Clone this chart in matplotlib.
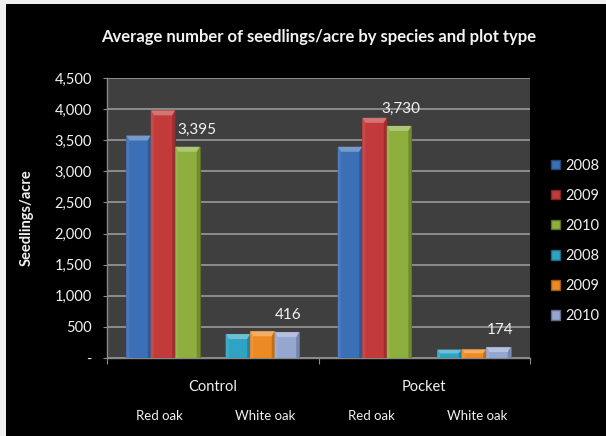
import matplotlib
matplotlib.use("Agg")
import matplotlib.pyplot as plt
from matplotlib.patches import Polygon, Rectangle, Patch
from matplotlib.ticker import FuncFormatter, MultipleLocator
import matplotlib.colors as mcolors
import numpy as np

# ---- data ----
plot_types = ["Control", "Pocket"]
species = ["Red oak", "White oak"]
years = ["2008", "2009", "2010"]
red_oak_control = [3575, 3980, 3395]
white_oak_control = [385, 430, 416]
red_oak_pocket = [3395, 3860, 3730]
white_oak_pocket = [135, 138, 174]
labelled = {("Control", "Red oak"): 3395, ("Control", "White oak"): 416,
            ("Pocket", "Red oak"): 3730, ("Pocket", "White oak"): 174}

red_oak_colors = ["#3b6fb6", "#c23a3a", "#8eae3d"]
white_oak_colors = ["#2fa3c4", "#ee8a24", "#95a7d0"]

FG = "#f2f2f2"
PANEL = "#3f3f3f"
GRID = "#8c8c8c"

W, H, DPI = 606, 436, 100
fig = plt.figure(figsize=(W / DPI, H / DPI), dpi=DPI, facecolor="black")
plt.rcParams["font.family"] = ["Lato", "DejaVu Sans"]

# light frame strips along the top and left edges
fig.patches.append(Rectangle((0, 1 - 4 / H), 1, 4 / H, transform=fig.transFigure,
                             facecolor="#f0f0f0", edgecolor="none", zorder=0))
fig.patches.append(Rectangle((0, 0), 6 / W, 1, transform=fig.transFigure,
                             facecolor="#f0f0f0", edgecolor="none", zorder=0))

ax_l, ax_r, ax_t, ax_b = 107, 530, 78, 358
ax = fig.add_axes([ax_l / W, 1 - ax_b / H, (ax_r - ax_l) / W, (ax_b - ax_t) / H])
ax.set_facecolor(PANEL)
ymax = 4500
ax.set_xlim(0, 4)
ax.set_ylim(0, ymax)

px_x = 4 / (ax_r - ax_l)
px_y = ymax / (ax_b - ax_t)

bar_w = 0.232
groups = [
    ("Control", "Red oak", red_oak_control, red_oak_colors),
    ("Control", "White oak", white_oak_control, white_oak_colors),
    ("Pocket", "Red oak", red_oak_pocket, red_oak_colors),
    ("Pocket", "White oak", white_oak_pocket, white_oak_colors),
]


def mix(c, other, f):
    a = np.array(mcolors.to_rgb(c))
    b = np.array(mcolors.to_rgb(other))
    return tuple(a * (1 - f) + b * f)


for gi, (ptype, sp, vals, cols) in enumerate(groups):
    shift = 0.03 if sp == "Red oak" else -0.03
    centre = gi + 0.5 + shift
    xs = centre + (np.arange(3) - 1) * bar_w
    bars = ax.bar(xs, vals, width=bar_w, color=cols, edgecolor=[mix(c, "black", 0.35) for c in cols],
                  linewidth=0.8, zorder=3)
    for b, c in zip(bars, cols):
        x0, x1 = b.get_x(), b.get_x() + b.get_width()
        h = b.get_height()
        d = 3 * px_x
        t = min(5 * px_y, h * 0.45)
        top = Polygon([(x0, h), (x1, h), (x1 - d, h - t), (x0 + d, h - t)],
                      closed=True, facecolor=mix(c, "white", 0.3), edgecolor="none", zorder=4)
        left = Polygon([(x0, h), (x0 + d, h - t), (x0 + d, 0), (x0, 0)],
                       closed=True, facecolor=mix(c, "white", 0.08), edgecolor="none", zorder=4)
        right = Polygon([(x1, h), (x1 - d, h - t), (x1 - d, 0), (x1, 0)],
                        closed=True, facecolor=mix(c, "black", 0.2), edgecolor="none", zorder=4)
        for p in (top, left, right):
            ax.add_patch(p)
    # value label over the 2010 bar
    v = labelled[(ptype, sp)]
    dx = 7 if (ptype, sp) == ("Control", "Red oak") else 1
    ax.annotate(f"{v:,}", (xs[2], vals[2]), xytext=(dx, 12.5), textcoords="offset points",
                ha="center", va="center", color=FG, fontsize=11, zorder=5)

# axes styling
ax.yaxis.set_major_locator(MultipleLocator(500))
ax.yaxis.set_major_formatter(FuncFormatter(lambda v, p: "-" if v == 0 else f"{v:,.0f}"))
ax.grid(axis="y", color=GRID, linewidth=1.4, zorder=1)
ax.set_axisbelow(True)
for s in ("top", "right"):
    ax.spines[s].set_visible(False)
for s in ("left", "bottom"):
    ax.spines[s].set_color("#8a8a8a")
    ax.spines[s].set_linewidth(1.0)
ax.tick_params(axis="y", colors="#8a8a8a", labelcolor=FG, labelsize=10.5, length=3, pad=8)
ax.set_xticks([0, 2, 4])
ax.set_xticklabels([])
ax.tick_params(axis="x", colors="#8a8a8a", length=4)

# category labels under the axis
xt = ax.get_xaxis_transform()
for i, pt in enumerate(plot_types):
    ax.text(2 * i + 1, -29 / (ax_b - ax_t), pt, transform=xt, ha="center", va="center",
            color=FG, fontsize=10.5)
    for j, sp in enumerate(species):
        ax.text(2 * i + j + 0.5, -58 / (ax_b - ax_t), sp, transform=xt, ha="center",
                va="center", color=FG, fontsize=9.5)

ax.set_ylabel("Seedlings/acre", color=FG, fontsize=10.5, fontweight="bold")
ax.yaxis.set_label_coords((34 - ax_l) / (ax_r - ax_l), 0.5)

fig.text(318.5 / W, 1 - 37 / H, "Average number of seedlings/acre by species and plot type",
         ha="center", va="center", color=FG, fontsize=12, fontweight="bold")

# legend
handles = [Patch(facecolor=c, edgecolor=mix(c, "black", 0.35), label=y)
           for c, y in zip(red_oak_colors + white_oak_colors, years + years)]
leg = fig.legend(handles=handles, loc="center left", bbox_to_anchor=(551 / W, 1 - 241 / H),
                 frameon=False, fontsize=10.5, labelcolor=FG, handlelength=0.6,
                 handleheight=0.6, handletextpad=0.4, labelspacing=1.1,
                 borderpad=0, borderaxespad=0)

fig.savefig("out.png", dpi=DPI, facecolor=fig.get_facecolor())
